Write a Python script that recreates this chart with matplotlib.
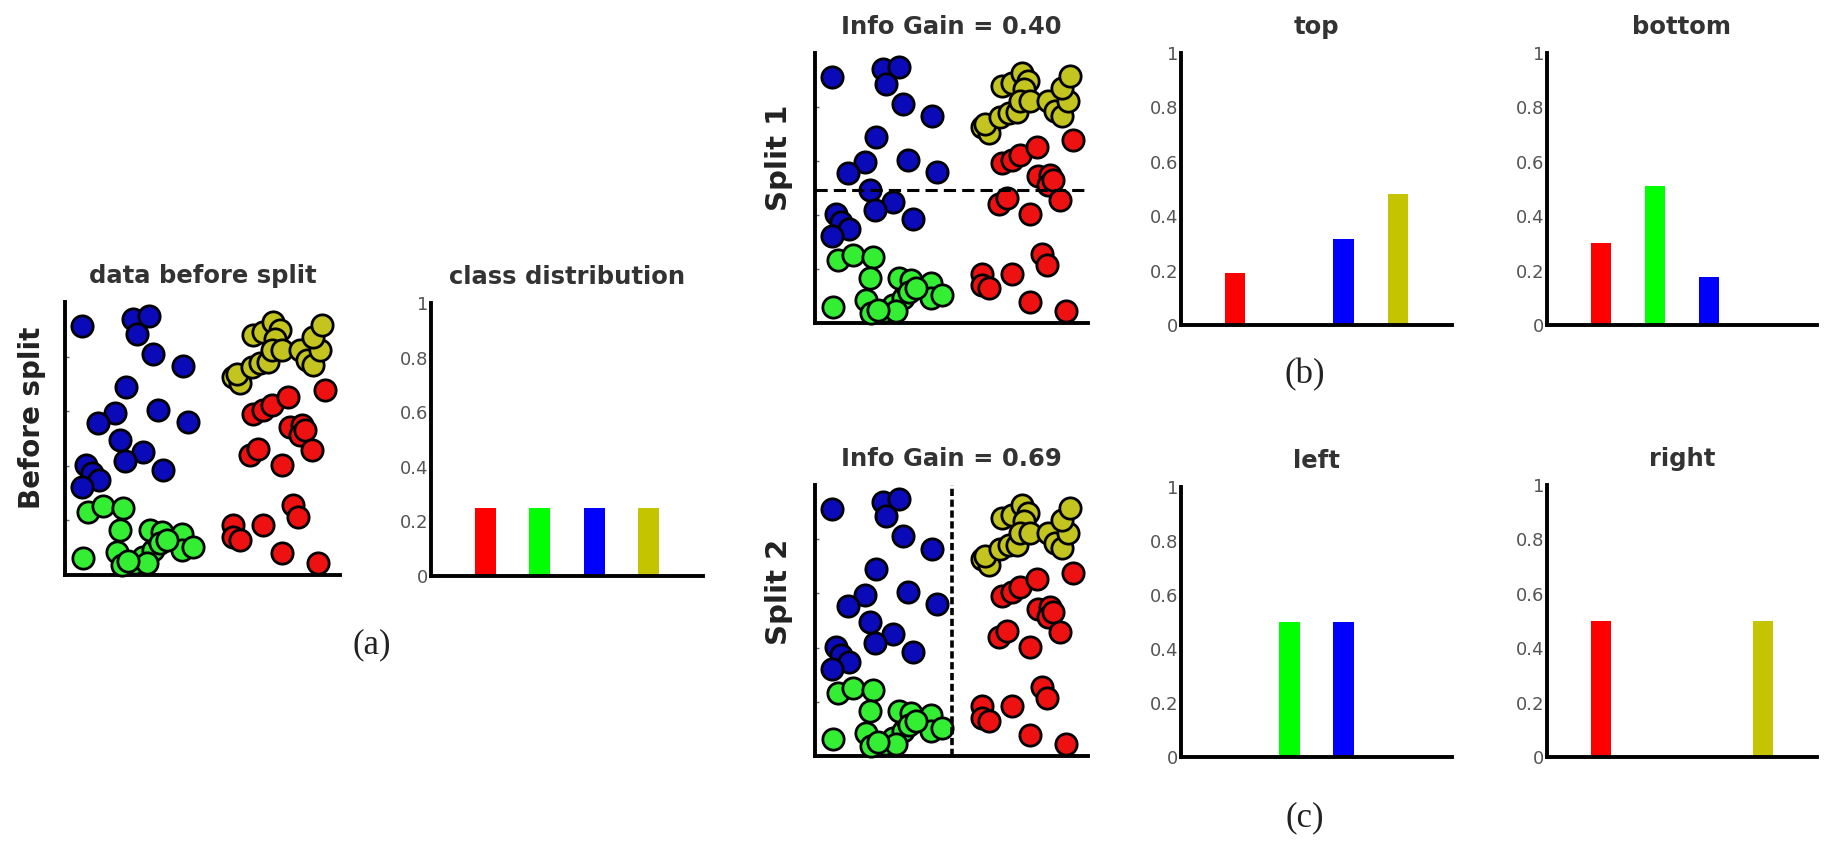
import matplotlib
matplotlib.use('Agg')
import matplotlib.pyplot as plt

W, H = 1825, 844

# the same 2-D points are shown in all three scatter panels
blue_x = [0.61, 2.48, 3.07, 2.61, 3.21, 4.28, 2.22, 1.82, 1.21, 3.39, 4.48, 2.00, 2.85, 2.18, 3.58, 0.76, 0.97, 1.25, 0.61]
blue_y = [9.11, 9.39, 9.48, 8.84, 8.11, 7.65, 6.89, 5.95, 5.55, 6.04, 5.61, 4.94, 4.49, 4.18, 3.84, 4.02, 3.74, 3.48, 3.21]

green_x = [0.85, 1.39, 2.12, 2.00, 0.67, 1.88, 2.06, 2.55, 2.85, 3.21, 3.33, 3.09, 3.52, 3.45, 2.97, 4.24, 4.24, 4.67, 2.30, 3.70]
green_y = [2.32, 2.52, 2.44, 1.65, 0.61, 0.85, 0.37, 0.43, 0.67, 0.91, 1.40, 1.65, 1.59, 1.16, 0.45, 1.50, 0.91, 1.04, 0.50, 1.30]

red_x = [9.45, 6.85, 7.20, 7.52, 8.12, 8.18, 8.61, 8.55, 8.73, 8.97, 6.73, 7.03, 7.88, 8.30, 8.48, 6.12, 6.12, 6.36, 7.21, 7.88, 9.21]
red_y = [6.77, 5.91, 6.05, 6.22, 6.52, 5.43, 5.49, 5.12, 5.30, 4.57, 4.39, 4.63, 4.02, 2.56, 2.13, 1.83, 1.40, 1.28, 1.83, 0.79, 0.43]

yellow_x = [6.12, 6.36, 6.24, 6.79, 7.09, 7.39, 6.85, 7.21, 7.58, 7.82, 7.64, 7.52, 7.88, 8.55, 8.79, 9.03, 9.27, 9.03, 9.33]
yellow_y = [7.26, 7.04, 7.38, 7.62, 7.77, 7.80, 8.78, 8.90, 9.27, 8.96, 8.66, 8.23, 8.23, 8.23, 7.87, 7.68, 8.23, 8.72, 9.15]

split1_y = 4.94   # horizontal split
split2_x = 5.0    # vertical split

# class distributions (red, green, blue, yellow)
bar_pos = [1, 2, 3, 4]
dist_before = [0.25, 0.25, 0.25, 0.25]
dist_top = [0.19, 0.0, 0.315, 0.48]
dist_bottom = [0.30, 0.51, 0.175, 0.0]
dist_left = [0.0, 0.5, 0.5, 0.0]
dist_right = [0.5, 0.0, 0.0, 0.5]

bar_colors = ['#ff0000', '#00ff00', '#0000ff', '#c4c400']
pt_colors = ['#0a0ab8', '#33ee33', '#ee1111', '#c4c420']

plt.rcParams['font.family'] = 'DejaVu Sans'

fig = plt.figure(figsize=(W / 100, H / 100), dpi=100)


def px_axes(x0, y0, x1, y1):
    return fig.add_axes([x0 / W, 1 - y1 / H, (x1 - x0) / W, (y1 - y0) / H])


def style_axes(ax):
    for s in ['top', 'right']:
        ax.spines[s].set_visible(False)
    for s in ['left', 'bottom']:
        ax.spines[s].set_linewidth(2.8)
        ax.spines[s].set_color('black')


def scatter_panel(x0, y0, x1, y1, title):
    ax = px_axes(x0, y0, x1, y1)
    style_axes(ax)
    groups = [(blue_x, blue_y), (green_x, green_y), (red_x, red_y), (yellow_x, yellow_y)]
    for (gx, gy), c in zip(groups, pt_colors):
        ax.scatter(gx, gy, s=235, c=c, edgecolors='black', linewidths=2.0,
                   zorder=3, clip_on=False)
    ax.set_xlim(0, 10)
    ax.set_ylim(0, 10)
    ax.set_xticks([])
    ax.set_yticks([2, 4, 6, 8])
    ax.tick_params(axis='y', direction='in', length=3, width=1, color='#666666', labelleft=False)
    ax.set_title(title, fontsize=17.5, fontweight='bold', color='#333333', pad=14)
    return ax


def bar_panel(x0, y0, x1, y1, values, title):
    ax = px_axes(x0, y0, x1, y1)
    style_axes(ax)
    ax.bar(bar_pos, values, width=0.38, color=bar_colors, zorder=1)
    ax.set_xlim(0, 5)
    ax.set_ylim(0, 1)
    ax.set_xticks([])
    ax.set_yticks([0, 0.2, 0.4, 0.6, 0.8, 1])
    ax.set_yticklabels(['0', '0.2', '0.4', '0.6', '0.8', '1'])
    ax.tick_params(axis='y', length=0, pad=2, labelsize=13, labelcolor='#555555')
    ax.set_title(title, fontsize=17.5, fontweight='bold', color='#333333', pad=14)
    return ax


# (a) before split
scatter_panel(65, 302, 340, 575, 'data before split')
bar_panel(431, 303, 703, 576, dist_before, 'class distribution')

# (b) split 1
ax1 = scatter_panel(815, 53, 1088, 323, 'Info Gain = 0.40')
ax1.axhline(split1_y, color='black', linewidth=2.2, dashes=(4, 2), zorder=4)
bar_panel(1181, 53, 1452, 325, dist_top, 'top')
bar_panel(1547, 53, 1817, 325, dist_bottom, 'bottom')

# (c) split 2
ax2 = scatter_panel(815, 485, 1088, 756, 'Info Gain = 0.69')
ax2.axvline(split2_x, color='black', linewidth=2.6, dashes=(2, 1), zorder=4)
bar_panel(1181, 487, 1452, 757, dist_left, 'left')
bar_panel(1547, 485, 1817, 757, dist_right, 'right')

# row labels
fig.text(32 / W, 1 - 418 / H, 'Before split', rotation=90, ha='center', va='center',
         fontsize=20, fontweight='bold', color='#222222')
fig.text(779 / W, 1 - 158 / H, 'Split 1', rotation=90, ha='center', va='center',
         fontsize=21, fontweight='bold', color='#222222')
fig.text(779 / W, 1 - 592 / H, 'Split 2', rotation=90, ha='center', va='center',
         fontsize=21, fontweight='bold', color='#222222')

# sub-figure labels
for lab, x, y in [('(a)', 372, 645), ('(b)', 1305, 375), ('(c)', 1305, 818)]:
    fig.text(x / W, 1 - y / H, lab, ha='center', va='center', fontsize=25,
             family='Liberation Serif', color='#222222')

fig.savefig('out.png', dpi=100)
